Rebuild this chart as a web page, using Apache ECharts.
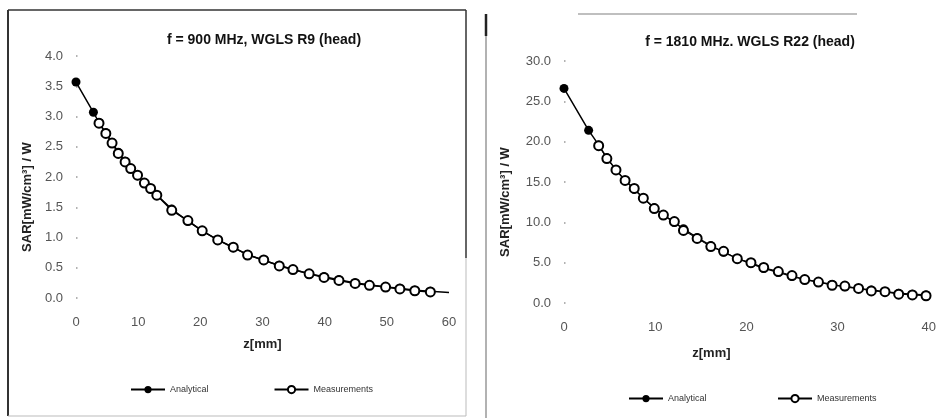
<!DOCTYPE html>
<html>
<head>
<meta charset="utf-8">
<script src="https://cdn.jsdelivr.net/npm/echarts@6/dist/echarts.min.js"></script>
<style>
  html, body { margin: 0; padding: 0; background: #fff; }
  #main { width: 939px; height: 418px; }
</style>
</head>
<body>
<div id="main"></div>
<script>
// 900 MHz chart (left)
const z900 = [0, 2.8, 3.7, 4.8, 5.8, 6.8, 7.9, 8.8, 9.9, 11.0, 12.0, 13.0, 15.4, 18.0, 20.3, 22.8, 25.3, 27.6, 30.2, 32.7, 34.9, 37.5, 39.9, 42.3, 44.9, 47.2, 49.8, 52.1, 54.5, 57.0, 60.0];
const ana900 = [3.57, 3.07, 2.90, 2.73, 2.57, 2.41, 2.26, 2.14, 2.02, 1.90, 1.80, 1.70, 1.47, 1.27, 1.11, 0.96, 0.83, 0.72, 0.62, 0.54, 0.47, 0.40, 0.35, 0.30, 0.25, 0.22, 0.18, 0.16, 0.13, 0.11, 0.09];
const mz900 = [3.7, 4.8, 5.8, 6.8, 7.9, 8.8, 9.9, 11.0, 12.0, 13.0, 15.4, 18.0, 20.3, 22.8, 25.3, 27.6, 30.2, 32.7, 34.9, 37.5, 39.9, 42.3, 44.9, 47.2, 49.8, 52.1, 54.5, 57.0];
const meas900 = [2.89, 2.72, 2.56, 2.39, 2.25, 2.14, 2.03, 1.90, 1.81, 1.70, 1.45, 1.28, 1.11, 0.96, 0.84, 0.71, 0.63, 0.53, 0.47, 0.40, 0.34, 0.29, 0.24, 0.21, 0.18, 0.15, 0.12, 0.10];

// 1810 MHz chart (right)
const z1810 = [0, 2.7, 3.8, 4.7, 5.7, 6.7, 7.7, 8.7, 9.9, 10.9, 12.1, 13.1, 14.6, 16.1, 17.5, 19.0, 20.5, 21.9, 23.5, 25.0, 26.4, 27.9, 29.4, 30.8, 32.3, 33.7, 35.2, 36.7, 38.2, 39.7];
const ana1810 = [26.6, 21.4, 19.6, 18.0, 16.5, 15.2, 14.1, 13.0, 11.8, 10.9, 10.0, 9.2, 8.1, 7.1, 6.3, 5.5, 4.9, 4.3, 3.8, 3.3, 2.9, 2.6, 2.3, 2.0, 1.8, 1.6, 1.4, 1.2, 1.1, 1.0];
const mz1810 = [3.8, 4.7, 5.7, 6.7, 7.7, 8.7, 9.9, 10.9, 12.1, 13.1, 14.6, 16.1, 17.5, 19.0, 20.5, 21.9, 23.5, 25.0, 26.4, 27.9, 29.4, 30.8, 32.3, 33.7, 35.2, 36.7, 38.2, 39.7];
const meas1810 = [19.5, 17.9, 16.5, 15.2, 14.2, 13.0, 11.7, 10.9, 10.1, 9.0, 8.0, 7.0, 6.4, 5.5, 5.0, 4.4, 3.9, 3.4, 2.9, 2.6, 2.2, 2.1, 1.8, 1.5, 1.4, 1.1, 1.0, 0.9];

const pairs = (xs, ys) => xs.map((x, i) => [x, ys[i]]);

const myChart = echarts.init(document.getElementById('main'));

const font = 'Liberation Sans, Arial, sans-serif';
const labelStyle = { color: '#555', fontSize: 13, fontFamily: font };
const dotGrid = { show: true, lineStyle: { color: '#999', width: 1.5, type: [1.5, 2000] } };

function xAxisOf(idx, max, pad) {
  return {
    type: 'value', gridIndex: idx, min: 0, max: max, interval: 10,
    name: 'z[mm]', nameLocation: 'middle', nameGap: idx ? 44 : 40,
    nameTextStyle: { color: '#222', fontWeight: 'bold', fontSize: 13, fontFamily: font, padding: pad },
    axisLine: { show: false }, axisTick: { show: false },
    axisLabel: Object.assign({ margin: 18 }, labelStyle),
    splitLine: { show: false }
  };
}

function yAxisOf(idx, max, step, gap) {
  return {
    type: 'value', gridIndex: idx, min: 0, max: max, interval: step,
    name: 'SAR[mW/cm³] / W', nameLocation: 'middle', nameGap: gap,
    nameTextStyle: { color: '#222', fontWeight: 'bold', fontSize: 13, fontFamily: font, padding: [0, 40, 0, 0] },
    axisLine: { show: false }, axisTick: { show: false },
    axisLabel: Object.assign({ margin: 13, formatter: v => v.toFixed(1) }, labelStyle),
    splitLine: dotGrid
  };
}

// the analytical curve runs on to 60 mm without a marker at its end
const ana900Data = pairs(z900, ana900).map((p, i, a) =>
  i === a.length - 1 ? { value: p, symbol: 'none' } : p);

const option = {
  animation: false,
  title: [
    { text: 'f = 900 MHz, WGLS R9 (head)', left: 259, top: 28, textAlign: 'center',
      textStyle: { fontSize: 14, fontWeight: 'bold', fontFamily: font, color: '#111' } },
    { text: 'f = 1810 MHz. WGLS R22 (head)', left: 745, top: 30, textAlign: 'center',
      textStyle: { fontSize: 14, fontWeight: 'bold', fontFamily: font, color: '#111' } }
  ],
  legend: [
    { left: 125, top: 380, itemWidth: 34, itemHeight: 9, itemGap: 65,
      textStyle: { fontSize: 9, color: '#333', fontFamily: font },
      data: [{ name: 'Analytical' }, { name: 'Measurements' }] },
    { left: 623, top: 389, itemWidth: 34, itemHeight: 9, itemGap: 68,
      textStyle: { fontSize: 9, color: '#333', fontFamily: font },
      data: [{ name: 'Analytical ' }, { name: 'Measurements ' }] }
  ],
  grid: [
    { left: 76, top: 56, width: 373, height: 242 },
    { left: 564, top: 61, width: 365, height: 242 }
  ],
  xAxis: [xAxisOf(0, 60, [0, 0, 0, 0]), xAxisOf(1, 40, [0, 70, 0, 0])],
  yAxis: [yAxisOf(0, 4, 0.5, 42), yAxisOf(1, 30, 5, 52)],
  series: [
    { name: 'Analytical', type: 'line', xAxisIndex: 0, yAxisIndex: 0, data: ana900Data,
      symbol: 'circle', symbolSize: 9, itemStyle: { color: '#000' }, lineStyle: { color: '#000', width: 1.5 } },
    { name: 'Measurements', type: 'line', xAxisIndex: 0, yAxisIndex: 0, data: pairs(mz900, meas900),
      symbol: 'circle', symbolSize: 9, itemStyle: { color: '#fff', borderColor: '#000', borderWidth: 2 },
      lineStyle: { color: '#000', width: 1.5 } },
    { name: 'Analytical ', type: 'line', xAxisIndex: 1, yAxisIndex: 1, data: pairs(z1810, ana1810),
      symbol: 'circle', symbolSize: 9, itemStyle: { color: '#000' }, lineStyle: { color: '#000', width: 1.5 } },
    { name: 'Measurements ', type: 'line', xAxisIndex: 1, yAxisIndex: 1, data: pairs(mz1810, meas1810),
      symbol: 'circle', symbolSize: 9, itemStyle: { color: '#fff', borderColor: '#000', borderWidth: 2 },
      lineStyle: { color: '#000', width: 1 } }
  ],
  graphic: [
    // scanned frame of left chart
    { type: 'line', shape: { x1: 8, y1: 10, x2: 8, y2: 416 }, style: { stroke: '#333', lineWidth: 2 } },
    { type: 'line', shape: { x1: 8, y1: 10, x2: 466, y2: 10 }, style: { stroke: '#333', lineWidth: 1.5 } },
    { type: 'line', shape: { x1: 466, y1: 10, x2: 466, y2: 258 }, style: { stroke: '#333', lineWidth: 1.5 } },
    { type: 'line', shape: { x1: 466, y1: 258, x2: 466, y2: 416 }, style: { stroke: '#bbb', lineWidth: 1 } },
    { type: 'line', shape: { x1: 8, y1: 416, x2: 466, y2: 416 }, style: { stroke: '#bbb', lineWidth: 1 } },
    // right chart edges
    { type: 'line', shape: { x1: 486, y1: 14, x2: 486, y2: 36 }, style: { stroke: '#222', lineWidth: 2.5 } },
    { type: 'line', shape: { x1: 486, y1: 36, x2: 486, y2: 418 }, style: { stroke: '#999', lineWidth: 1.5 } },
    { type: 'line', shape: { x1: 578, y1: 14, x2: 857, y2: 14 }, style: { stroke: '#aaa', lineWidth: 1.5 } }
  ]
};

myChart.setOption(option);
</script>
</body>
</html>
